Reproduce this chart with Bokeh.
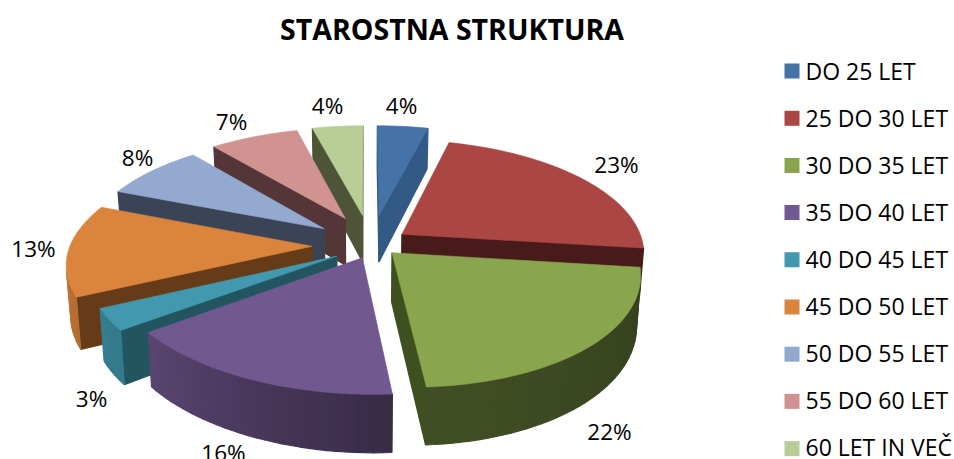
import numpy as np
from bokeh.plotting import figure
from bokeh.models import Range1d, ColumnDataSource
from bokeh.core.properties import value
from bokeh.embed import file_html
from bokeh.resources import INLINE

title = "STAROSTNA STRUKTURA"
categories = ["DO 25 LET", "25 DO 30 LET", "30 DO 35 LET", "35 DO 40 LET", "40 DO 45 LET",
              "45 DO 50 LET", "50 DO 55 LET", "55 DO 60 LET", "60 LET IN VEČ"]
percent = [4, 23, 22, 16, 3, 13, 8, 7, 4]
top_colors = ["#4572A7", "#AA4643", "#89A54E", "#71588F", "#4198AF", "#DB843D", "#93A9CF", "#D19392", "#B9CD96"]
cut_colors = ["#335A85", "#471B19", "#3E4F20", "#3A2B4A", "#235560", "#653B18", "#3A4456", "#553638", "#4D5438"]
label_x = [401, 616, 609, 223, 91, 33, 137, 231, 327]
label_y = [105, 164, 431, 452, 398, 248, 157, 121, 105]

# projection constants (pixels of the page)
CX, CY, A, B, P = 365, 236, 239, 109, 0.15
DEPTH, SHRINK, EXPLODE, FRONT_SKEW = 48, 0.985, 0.2, 9
nudge_x = [8, -3, -7, 17, 13, -5, -3, 1, 3]
nudge_y = [0, 10, 0, 1, 8, 9, 5, 1, 0]
LEG_X, LEG_Y, LEG_STEP, LEG_BOX, LEG_TEXT_X, LEG_TEXT_Y, LEG_TEXT_STEP = 791.5, 70.5, 47.2, 15, 805, 70, 47


def project(X, Y, down=False):
    X, Y = np.asarray(X, float), np.asarray(Y, float)
    s = 1 / (1 - P * Y)
    x = CX + A * X * s + FRONT_SKEW * np.clip(Y, 0, None) ** 2
    y = CY + B * Y * s
    if down:
        x = CX + (x - CX) * SHRINK
        y = y + DEPTH * s
    return x, y


def shade(hex_color, f):
    c = np.array([int(hex_color[i:i + 2], 16) for i in (1, 3, 5)]) * f
    return "#%02x%02x%02x" % tuple(int(v) for v in np.clip(c, 0, 255))


def area(x, y):
    return 0.5 * np.sum(x * np.roll(y, -1) - np.roll(x, -1) * y)


p = figure(width=954, height=459, x_range=Range1d(0, 954), y_range=Range1d(459, 0),
           output_backend="svg", toolbar_location=None, min_border=0)
p.axis.visible = False
p.grid.visible = False
p.outline_line_color = None
p.background_fill_color = "white"

edges = np.radians(np.concatenate([[0], np.cumsum(percent)]) * 3.6)
mids = (edges[:-1] + edges[1:]) / 2
order = np.argsort(np.cos(mids))[::-1]

for i in order:
    ox = EXPLODE * np.sin(mids[i]) + nudge_x[i] / A
    oy = -EXPLODE * np.cos(mids[i]) + nudge_y[i] / B
    th = np.linspace(edges[i], edges[i + 1], max(3, int(percent[i] * 2)))
    X = ox + np.sin(th)
    Y = oy - np.cos(th)
    tx, ty = project(X, Y)
    bx, by = project(X, Y, True)
    ax_t, ay_t = project([ox], [oy])
    ax_b, ay_b = project([ox], [oy], True)

    xs, ys, cols = [], [], []
    # cut faces
    faces = [([ax_t[0], tx[0], bx[0], ax_b[0]], [ay_t[0], ty[0], by[0], ay_b[0]]),
             ([tx[-1], ax_t[0], ax_b[0], bx[-1]], [ty[-1], ay_t[0], ay_b[0], by[-1]])]
    for fx, fy in faces:
        if area(np.array(fx), np.array(fy)) < 0:
            xs.append(fx); ys.append(fy); cols.append(cut_colors[i])
    # outer wall, shaded across its width
    for k in range(len(th) - 1):
        fx = [tx[k], tx[k + 1], bx[k + 1], bx[k]]
        fy = [ty[k], ty[k + 1], by[k + 1], by[k]]
        if area(np.array(fx), np.array(fy)) < 0:
            f = np.interp(np.degrees(th[k]), [90, 176, 234, 270], [0.35, 0.5, 0.8, 0.9])
            if np.degrees(th[k]) < 176:
                f = np.interp(np.degrees(th[k]), [90, 176], [0.38, 0.48])
            xs.append(fx); ys.append(fy); cols.append(shade(top_colors[i], f))
    if xs:
        p.patches(xs, ys, fill_color=cols, line_color=cols, line_width=1.2)
    p.patch(np.concatenate([ax_t, tx]), np.concatenate([ay_t, ty]),
            fill_color=top_colors[i], line_color=top_colors[i], line_width=0.6)

src = ColumnDataSource(dict(x=label_x, y=label_y, t=[f"{v}%" for v in percent]))
p.text("x", "y", text="t", source=src, text_font=value("Open Sans"), text_font_size="22.5px",
       text_color="#000000", text_align="center", text_baseline="middle")
p.text([451.5], [28.5], text=[title], text_font=value("Open Sans"), text_font_size="28.5px",
       text_font_style="bold", text_color="#000000", text_align="center", text_baseline="middle")

idx = np.arange(len(categories))
p.rect([LEG_X] * len(idx), LEG_Y + LEG_STEP * idx, width=LEG_BOX, height=LEG_BOX,
       fill_color=top_colors, line_color=None)
p.text([LEG_TEXT_X] * len(idx), LEG_TEXT_Y + LEG_TEXT_STEP * idx, text=categories, text_font=value("Open Sans"),
       text_font_size="23px", text_color="#000000", text_align="left", text_baseline="middle")

open("out.html", "w").write(file_html(p, INLINE))
